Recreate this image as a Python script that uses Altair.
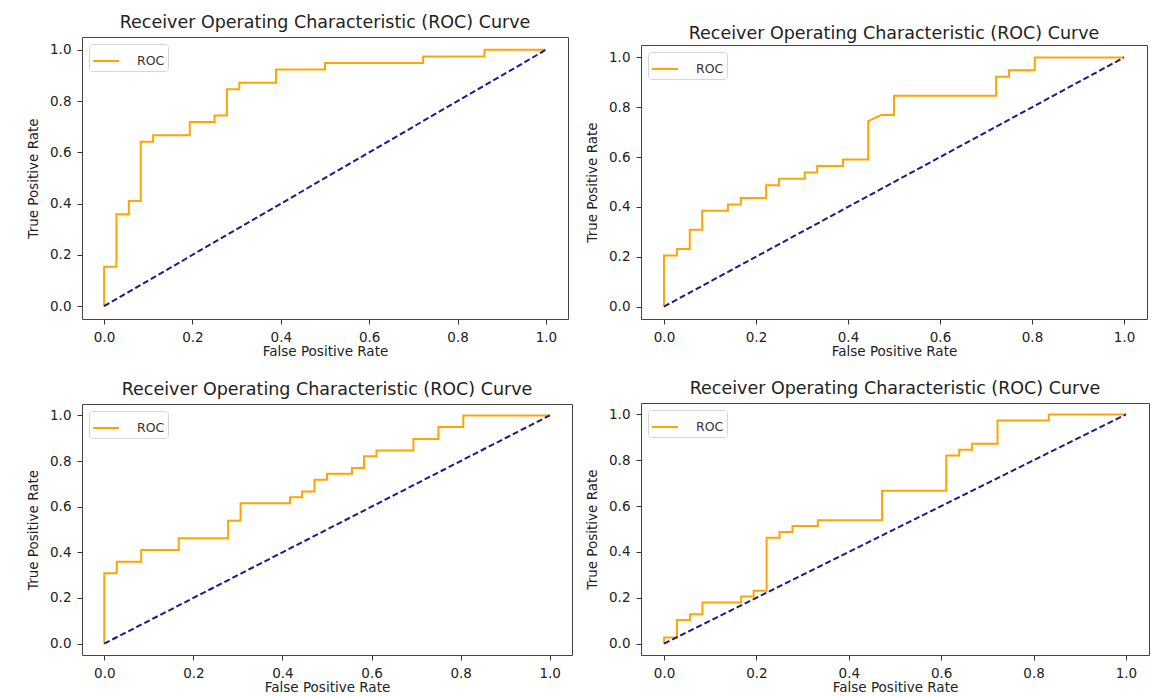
import altair as alt
import pandas as pd

TITLE = "Receiver Operating Characteristic (ROC) Curve"
X_TITLE = "False Positive Rate"
Y_TITLE = "True Positive Rate"
TICKS = [0.0, 0.2, 0.4, 0.6, 0.8, 1.0]
DIAG = [0.0, 1.0]
SERIES = "ROC"

# Panel 1 (top-left)
fpr1 = [0, 0, 0.028, 0.028, 0.056, 0.056, 0.083, 0.083, 0.111, 0.111, 0.194, 0.194, 0.25, 0.25,
        0.278, 0.278, 0.306, 0.306, 0.389, 0.389, 0.5, 0.5, 0.722, 0.722, 0.861, 0.861, 1.0]
tpr1 = [0, 0.154, 0.154, 0.359, 0.359, 0.41, 0.41, 0.641, 0.641, 0.667, 0.667, 0.718, 0.718, 0.744,
        0.744, 0.846, 0.846, 0.872, 0.872, 0.923, 0.923, 0.949, 0.949, 0.974, 0.974, 1.0, 1.0]

# Panel 2 (top-right)
fpr2 = [0, 0, 0.028, 0.028, 0.056, 0.056, 0.083, 0.083, 0.139, 0.139, 0.167, 0.167, 0.222, 0.222,
        0.25, 0.25, 0.306, 0.306, 0.333, 0.333, 0.389, 0.389, 0.444, 0.444, 0.472, 0.5, 0.5,
        0.722, 0.722, 0.75, 0.75, 0.806, 0.806, 1.0]
tpr2 = [0, 0.205, 0.205, 0.231, 0.231, 0.308, 0.308, 0.385, 0.385, 0.41, 0.41, 0.436, 0.436, 0.487,
        0.487, 0.513, 0.513, 0.538, 0.538, 0.564, 0.564, 0.59, 0.59, 0.744, 0.769, 0.769, 0.846,
        0.846, 0.923, 0.923, 0.949, 0.949, 1.0, 1.0]

# Panel 3 (bottom-left)
fpr3 = [0, 0, 0.028, 0.028, 0.083, 0.083, 0.167, 0.167, 0.278, 0.278, 0.306, 0.306, 0.417, 0.417,
        0.444, 0.444, 0.472, 0.472, 0.5, 0.5, 0.556, 0.556, 0.583, 0.583, 0.611, 0.611, 0.694,
        0.694, 0.75, 0.75, 0.806, 0.806, 1.0]
tpr3 = [0, 0.308, 0.308, 0.359, 0.359, 0.41, 0.41, 0.462, 0.462, 0.538, 0.538, 0.615, 0.615, 0.641,
        0.641, 0.667, 0.667, 0.718, 0.718, 0.744, 0.744, 0.769, 0.769, 0.821, 0.821, 0.846, 0.846,
        0.897, 0.897, 0.949, 0.949, 1.0, 1.0]

# Panel 4 (bottom-right)
fpr4 = [0, 0, 0.028, 0.028, 0.056, 0.056, 0.083, 0.083, 0.167, 0.167, 0.194, 0.194, 0.222, 0.222,
        0.25, 0.25, 0.278, 0.278, 0.333, 0.333, 0.472, 0.472, 0.611, 0.611, 0.639, 0.639, 0.667,
        0.667, 0.722, 0.722, 0.833, 0.833, 1.0]
tpr4 = [0, 0.026, 0.026, 0.103, 0.103, 0.128, 0.128, 0.179, 0.179, 0.205, 0.205, 0.231, 0.231, 0.462,
        0.462, 0.487, 0.487, 0.513, 0.513, 0.538, 0.538, 0.667, 0.667, 0.821, 0.821, 0.846, 0.846,
        0.872, 0.872, 0.974, 0.974, 1.0, 1.0]

FONT = "DejaVu Sans"


def panel(fpr, tpr, w, h, title_offset=6):
    df = pd.DataFrame({"fpr": fpr, "tpr": tpr, "i": list(range(len(fpr))), "s": SERIES})
    dd = pd.DataFrame({"fpr": DIAG, "tpr": DIAG})
    sc = alt.Scale(domain=[-0.05, 1.05], nice=False, zero=False)
    x = alt.X("fpr:Q", scale=sc, axis=alt.Axis(values=TICKS, format=".1f", title=X_TITLE))
    y = alt.Y("tpr:Q", scale=sc, axis=alt.Axis(values=TICKS, format=".1f", title=Y_TITLE))
    roc = alt.Chart(df).mark_line(strokeWidth=2).encode(
        x=x, y=y, order="i:Q",
        color=alt.Color("s:N", scale=alt.Scale(domain=[SERIES], range=["#FFA500"]),
                        legend=alt.Legend(title=None, orient="top-left", offset=7,
                                          symbolType="stroke", symbolStrokeWidth=2,
                                          symbolSize=676, labelFontSize=12.5, labelFont=FONT,
                                          labelColor="#333", labelOffset=17,
                                          fillColor="white", strokeColor="#d6d6d6",
                                          cornerRadius=3, padding=3)),
    )
    dia = alt.Chart(dd).mark_line(color="#1a1a8c", strokeDash=[6, 3], strokeWidth=2).encode(x=x, y=y)
    return alt.layer(roc, dia).properties(
        width=w, height=h,
        title=alt.TitleParams(TITLE, fontSize=17.5, font=FONT, fontWeight="normal",
                              color="#222", offset=title_offset),
    )


def spacer(h):
    return alt.Chart(pd.DataFrame({"v": [0]})).mark_point(opacity=0, size=0).encode(
        x=alt.X("v:Q", axis=None), y=alt.Y("v:Q", axis=None)
    ).properties(width=10, height=h, view=alt.ViewBackground(stroke=None))


p1 = panel(fpr1, tpr1, 486, 282)
p2 = panel(fpr2, tpr2, 506, 274, title_offset=3)
p3 = panel(fpr3, tpr3, 490, 251)
p4 = panel(fpr4, tpr4, 508, 252)

res = dict(x="independent", y="independent", color="independent")

col1 = alt.vconcat(spacer(1), alt.vconcat(p1, p3, spacing=21).resolve_scale(**res),
                   spacing=0).resolve_scale(**res)
col2 = alt.vconcat(spacer(11.5), alt.vconcat(p2, p4, spacing=20).resolve_scale(**res),
                   spacing=0).resolve_scale(**res)

chart = alt.hconcat(col1, col2, spacing=12).resolve_scale(**res).properties(
    padding={"left": 26, "top": 12, "right": 0, "bottom": 0},
    background="white",
).configure_view(stroke="#444", strokeWidth=1).configure_axis(
    labelFontSize=13.5, titleFontSize=13.5, labelFont=FONT, titleFont=FONT,
    titleFontWeight="normal", labelColor="#222", titleColor="#222",
    tickSize=5, tickColor="#333", domain=False, grid=False,
).configure_axisX(labelPadding=6, titlePadding=1).configure_axisY(labelPadding=6, titlePadding=9)

chart.save("out.html", embed_options={"renderer": "svg", "actions": False})
